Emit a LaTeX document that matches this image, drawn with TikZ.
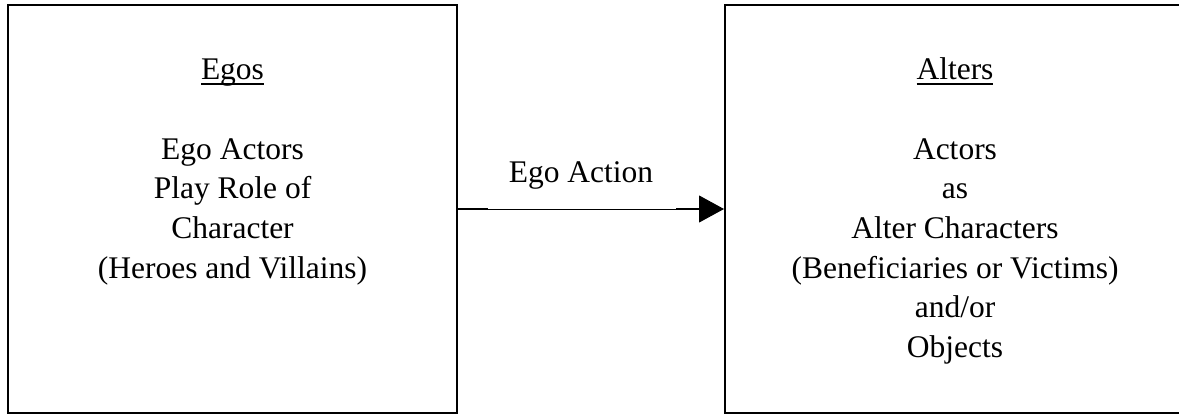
\documentclass[tikz,border=0pt]{standalone}
\usepackage{fontspec}
\setmainfont{Liberation Serif}
\usetikzlibrary{arrows.meta,calc}
\newcommand\myul[1]{\setbox0\hbox{#1}\rlap{\rule[-6pt]{\wd0}{2pt}}\box0}
\begin{document}
\begin{tikzpicture}[x=1pt,y=-1pt,
  box/.style={draw,line width=2pt,minimum height=408pt,inner sep=0pt},
  txt/.style={anchor=base,inner sep=0pt,font=\fontsize{31.5}{40}\selectfont},
  conn/.style={line width=1pt,-{Triangle[length=25pt,width=27pt]}},
  thickseg/.style={line width=2.4pt}]
\useasboundingbox[fill=white] (0,0) rectangle (1179,415);
\node[box,minimum width=449pt] (L) at (232.5,209) {};
\node[box,minimum width=460pt] (R) at (955,209) {};
% left text
\node[txt] (l1) at (232.5,79) {\myul{Egos}};
\node[txt] (l2) at (232.5,159) {Ego Actors};
\node[txt] (l3) at (232.5,198.5) {Play Role of};
\node[txt] (l4) at (232.5,238) {Character};
\node[txt] (l5) at (232.5,278) {(Heroes and Villains)};
% right text
\node[txt] (r1) at (955,79) {\myul{Alters}};
\node[txt] (r2) at (955,159) {Actors};
\node[txt] (r3) at (955,198.5) {as};
\node[txt] (r4) at (955,238) {Alter Characters};
\node[txt] (r5) at (955,278) {(Beneficiaries or Victims)};
\node[txt] (r6) at (955,317.5) {and/or};
\node[txt] (r7) at (955,357) {Objects};
% connector
\draw[conn] (L.east) -- (R.west);
\coordinate (a1) at ($(L.east)+(30,0)$);
\coordinate (a2) at ($(R.west)+(-48,0)$);
\coordinate (a3) at ($(R.west)+(-24,0)$);
\draw[thickseg] (L.east) -- (a1);
\draw[thickseg] (a2) -- (a3);
\node[txt] (lab) at (581,182) {Ego Action};
\end{tikzpicture}
\end{document}
